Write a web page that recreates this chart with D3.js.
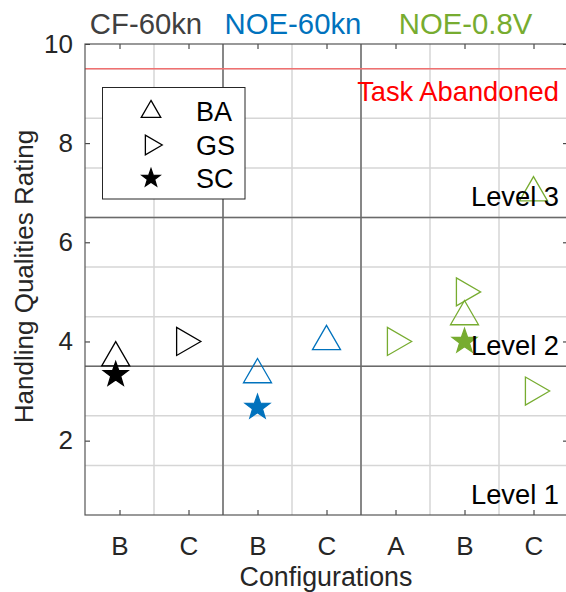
<!DOCTYPE html>
<html>
<head>
<meta charset="utf-8">
<script src="https://cdn.jsdelivr.net/npm/d3@7"></script>
<style>
  html, body { margin: 0; padding: 0; background: #fff; }
  svg { display: block; font-family: "Liberation Sans", Arial, Helvetica, sans-serif; }
</style>
</head>
<body>
<svg id="chart" width="566" height="592"></svg>
<script>
// Configuration tick labels (positions 1..7)
const configLabels = ["B", "C", "B", "C", "A", "B", "C"];
// Plotted x location of each configuration's markers
const xPositions = [0.945, 1.945, 3, 4, 5, 6, 7];
// Group of each configuration (index into groups)
const configGroup = [0, 0, 1, 1, 2, 2, 2];
const groups = ["CF-60kn", "NOE-60kn", "NOE-0.8V"];
const groupColors = ["#000000", "#0072BD", "#77AC30"];
const groupLabelColors = ["#404040", "#0072BD", "#77AC30"];
// Handling qualities ratings per configuration (null = not flown)
const ratingBA = [3.67, null, 3.33, 4.0, null, 4.5, 7.0];
const ratingGS = [null, 4.0, null, null, 4.0, 5.0, 3.0];
const ratingSC = [3.33, null, 2.67, null, null, 4.0, null];
const yTicks = [2, 4, 6, 8, 10];
const levelBounds = [3.5, 6.5];
const abandonLevel = 9.5;
const levelLabels = [{ text: "Level 1", y: 0.73 }, { text: "Level 2", y: 3.73 }, { text: "Level 3", y: 6.73 }];

const svg = d3.select("#chart");
const m = { left: 85, top: 44, right: 568, bottom: 515 };
const x = d3.scaleLinear().domain([0.5, 7.5]).range([m.left, m.right]);
const y = d3.scaleLinear().domain([0.5, 10]).range([m.bottom, m.top]);
const axisCol = "#262626";
const fontSize = 26;
const labelSize = 27.3;

// light grid at half units
const gx = d3.range(1.5, 7.5, 1);
const gy = d3.range(1.5, 10, 1);
svg.append("g").selectAll("line").data(gx).join("line")
  .attr("x1", d => x(d)).attr("x2", d => x(d)).attr("y1", m.top).attr("y2", m.bottom)
  .attr("stroke", "#d6d6d6").attr("stroke-width", 1.5);
svg.append("g").selectAll("line").data(gy).join("line")
  .attr("x1", m.left).attr("x2", m.right).attr("y1", d => y(d)).attr("y2", d => y(d))
  .attr("stroke", "#d6d6d6").attr("stroke-width", 1.5);

// group separators and level boundaries
svg.append("g").selectAll("line").data([2.5, 4.5]).join("line")
  .attr("x1", d => x(d)).attr("x2", d => x(d)).attr("y1", m.top).attr("y2", m.bottom)
  .attr("stroke", "#6a6a6a").attr("stroke-width", 1.5);
svg.append("g").selectAll("line").data(levelBounds).join("line")
  .attr("x1", m.left).attr("x2", m.right).attr("y1", d => y(d)).attr("y2", d => y(d))
  .attr("stroke", "#6a6a6a").attr("stroke-width", 1.5);
svg.append("line")
  .attr("x1", m.left).attr("x2", m.right).attr("y1", y(abandonLevel)).attr("y2", y(abandonLevel))
  .attr("stroke", "#f07070").attr("stroke-width", 1.5);

// axes (ticks inward, box)
const tickLen = 5;
const xTickVals = d3.range(1, 8);
const xb = d3.axisBottom(x).tickValues(xTickVals).tickSize(-tickLen).tickFormat((d, i) => configLabels[i]).tickPadding(22);
const xt = d3.axisTop(x).tickValues(xTickVals).tickSize(-tickLen).tickFormat("");
const yl = d3.axisLeft(y).tickValues(yTicks).tickSize(-tickLen).tickFormat(d3.format("d")).tickPadding(12);
const yr = d3.axisRight(y).tickValues(yTicks).tickSize(-tickLen).tickFormat("");
function style(g) {
  g.select(".domain").remove();
  g.selectAll("line").attr("stroke", axisCol);
  g.selectAll("text").attr("fill", axisCol).attr("font-size", fontSize).attr("font-family", "Liberation Sans, Arial, sans-serif");
}
svg.append("g").attr("transform", `translate(0,${m.bottom})`).call(xb).call(style);
svg.append("g").attr("transform", `translate(0,${m.top})`).call(xt).call(style);
svg.append("g").attr("transform", `translate(${m.left},0)`).call(yl).call(style);
svg.append("g").attr("transform", `translate(${m.right},0)`).call(yr).call(style);
svg.append("rect").attr("x", m.left).attr("y", m.top)
  .attr("width", m.right - m.left).attr("height", m.bottom - m.top)
  .attr("fill", "none").attr("stroke", "#555").attr("stroke-width", 1.2);

// axis titles
svg.append("text").attr("x", 326).attr("y", 586)
  .attr("text-anchor", "middle").attr("font-size", 26.8).attr("fill", axisCol).text("Configurations");
svg.append("text").attr("transform", `translate(33,${(m.top + m.bottom) / 2 - 3}) rotate(-90)`)
  .attr("text-anchor", "middle").attr("font-size", fontSize).attr("fill", axisCol).text("Handling Qualities Rating");

// group titles above the axes
const groupCenters = [1.5, 3.5, 6];
svg.append("g").selectAll("text").data(groups).join("text")
  .attr("x", (d, i) => x(groupCenters[i]) + [-8, 1, 1][i])
  .attr("y", 33.5).attr("text-anchor", "middle").attr("font-size", 29.3)
  .attr("fill", (d, i) => groupLabelColors[i]).text(d => d);

// abandonment label
svg.append("text").attr("x", 559).attr("y", 100.5).attr("text-anchor", "end")
  .attr("font-size", labelSize).attr("fill", "#ff0000").text("Task Abandoned");

// markers
function triUp(s) { const h = s * 0.866; return `M0,${-2 * h / 3}L${s / 2},${h / 3}L${-s / 2},${h / 3}Z`; }
function triRight(s) { const h = s * 0.866; return `M${2 * h / 3},0L${-h / 3},${s / 2}L${-h / 3},${-s / 2}Z`; }
function star(R) {
  const r = R * 0.4; let p = "";
  for (let k = 0; k < 10; k++) {
    const a = -Math.PI / 2 + k * Math.PI / 5; const rr = k % 2 ? r : R;
    p += (k ? "L" : "M") + (rr * Math.cos(a)).toFixed(2) + "," + (rr * Math.sin(a)).toFixed(2);
  }
  return p + "Z";
}
const mk = svg.append("g");
const series = [
  { vals: ratingBA, path: triUp(28), filled: false },
  { vals: ratingGS, path: triRight(28), filled: false },
  { vals: ratingSC, path: star(13), filled: true }
];
series.forEach(s => {
  const pts = s.vals.map((v, i) => ({ v, i })).filter(d => d.v !== null);
  mk.selectAll(null).data(pts).join("path")
    .attr("transform", d => `translate(${x(xPositions[d.i])},${y(d.v)})`)
    .attr("d", s.path)
    .attr("fill", d => s.filled ? groupColors[configGroup[d.i]] : "none")
    .attr("stroke", d => groupColors[configGroup[d.i]])
    .attr("stroke-width", 1.3).attr("stroke-linejoin", "miter");
});

// handling qualities level labels
svg.append("g").selectAll("text").data(levelLabels).join("text")
  .attr("x", 559).attr("y", d => y(d.y)).attr("text-anchor", "end")
  .attr("font-size", labelSize).attr("fill", "#000").text(d => d.text);

// legend
const leg = svg.append("g");
leg.append("rect").attr("x", 102.5).attr("y", 87.5).attr("width", 142.5).attr("height", 111.5)
  .attr("fill", "#fff").attr("stroke", axisCol).attr("stroke-width", 1);
const legItems = [
  { name: "BA", path: triUp(19.5), filled: false },
  { name: "GS", path: triRight(19.5), filled: false },
  { name: "SC", path: star(9.5), filled: true }
];
legItems.forEach((d, i) => {
  const cy = 111.7 + i * 33.3;
  leg.append("path").attr("transform", `translate(151,${cy})`).attr("d", d.path)
    .attr("fill", d.filled ? "#000" : "none").attr("stroke", "#000").attr("stroke-width", 1.3);
  leg.append("text").attr("x", 196).attr("y", cy + 9.5).attr("font-size", 27)
    .attr("fill", "#000").text(d.name);
});
</script>
</body>
</html>
